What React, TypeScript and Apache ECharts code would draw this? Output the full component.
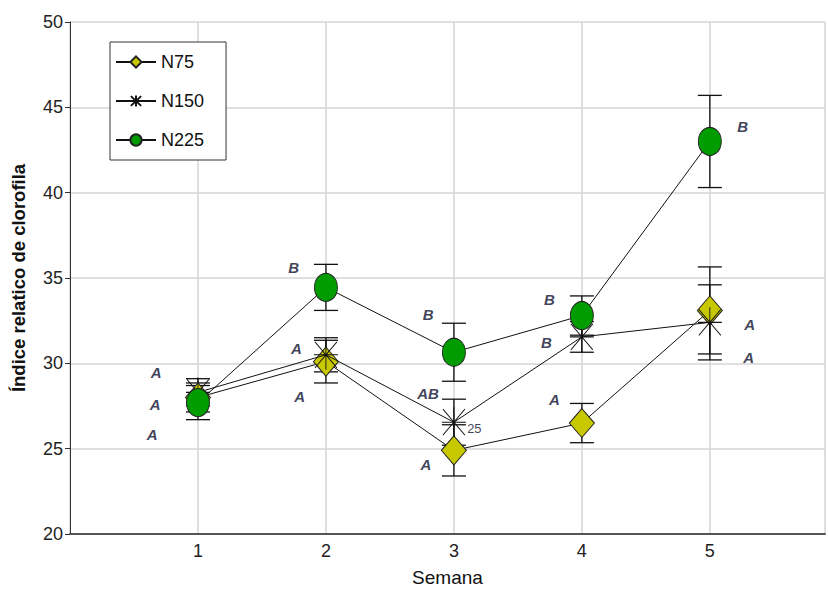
import React, { useEffect, useRef } from "react";
import * as echarts from "echarts";

const weeks = [1, 2, 3, 4, 5];
const seriesNames = ["N75", "N150", "N225"];
const n75Mean = [28.0, 30.1, 24.9, 26.5, 33.1];
const n75Err = [0.85, 1.25, 1.5, 1.15, 2.55];
const n150Mean = [28.3, 30.5, 26.55, 31.55, 32.4];
const n150Err = [0.8, 1.0, 1.35, 0.9, 2.2];
const n225Mean = [27.7, 34.45, 30.65, 32.8, 43.0];
const n225Err = [1.0, 1.35, 1.7, 1.15, 2.7];

// significance letters: [x, y, text]
const letters: [number, number, string][] = [
  [0.673, 29.44, "A"], [0.665, 27.57, "A"], [0.642, 25.83, "A"],
  [1.747, 35.61, "B"], [1.77, 30.89, "A"], [1.794, 28.04, "A"],
  [2.798, 32.87, "B"], [2.798, 28.21, "AB"], [2.782, 24.08, "A"],
  [3.747, 33.75, "B"], [3.724, 31.24, "B"], [3.786, 27.86, "A"],
  [5.257, 43.88, "B"], [5.311, 32.29, "A"], [5.303, 30.37, "A"],
];
const notes: [number, number, string][] = [[3.16, 26.2, "25"]];

const ASTERISK = "path://M12 0 L12 30 M1 2 L23 28 M23 2 L1 28 M0 15 L24 15";

export default function App() {
  const ref = useRef<HTMLDivElement>(null);
  useEffect(() => {
    if (!ref.current) return;
    const chart = echarts.init(ref.current, null, { renderer: "svg" });
    const font = "'Liberation Sans', Arial, sans-serif";
    const errSeries = (means: number[], errs: number[]) => ({
      type: "custom",
      z: 1,
      silent: true,
      data: weeks.map((w, i) => [w, means[i] - errs[i], means[i] + errs[i]]),
      encode: { x: 0, y: [1, 2] },
      renderItem: (params: any, api: any) => {
        const lo = api.coord([api.value(0), api.value(1)]);
        const hi = api.coord([api.value(0), api.value(2)]);
        const hw = 12;
        const st = { stroke: "#111", lineWidth: 1.3 };
        return {
          type: "group",
          children: [
            { type: "line", shape: { x1: lo[0], y1: lo[1], x2: hi[0], y2: hi[1] }, style: st },
            { type: "line", shape: { x1: lo[0] - hw, y1: lo[1], x2: lo[0] + hw, y2: lo[1] }, style: st },
            { type: "line", shape: { x1: hi[0] - hw, y1: hi[1], x2: hi[0] + hw, y2: hi[1] }, style: st },
          ],
        };
      },
    });
    const lineSeries = (name: string, means: number[], symbol: string, size: any, color: string, z: number) => ({
      name,
      type: "line",
      z,
      data: weeks.map((w, i) => [w, means[i]]),
      symbol,
      symbolSize: size,
      showAllSymbol: true,
      lineStyle: { color: "#111", width: 1 },
      itemStyle: { color, borderColor: "#222", borderWidth: 1 },
    });
    chart.setOption({
      animation: false,
      backgroundColor: "#fff",
      grid: { left: 70, top: 22, right: 0, bottom: 55 },
      legend: {
        left: 110,
        top: 42,
        orient: "vertical",
        data: seriesNames,
        backgroundColor: "#fff",
        borderColor: "#333",
        borderWidth: 1,
        padding: [11, 22, 11, 5],
        itemWidth: 40,
        itemHeight: 14,
        itemGap: 21,
        textStyle: { fontSize: 18, color: "#111", fontFamily: font },
      },
      xAxis: {
        type: "value",
        min: 0,
        max: 5.9,
        interval: 1,
        name: "Semana",
        nameLocation: "middle",
        nameGap: 34,
        nameTextStyle: { fontSize: 19, color: "#111", fontFamily: font },
        axisLine: { lineStyle: { color: "#555", width: 2 } },
        axisTick: { show: false },
        axisLabel: {
          margin: 8,
          fontSize: 18,
          color: "#222",
          fontFamily: font,
          formatter: (v: number) => (v >= 1 && v <= 5 ? String(v) : ""),
        },
        splitLine: { show: true, lineStyle: { color: "#d4d4d4", width: 1.5 } },
      },
      yAxis: {
        type: "value",
        min: 20,
        max: 50,
        interval: 5,
        name: "Índice relatico de clorofila",
        nameLocation: "middle",
        nameGap: 42,
        nameTextStyle: { fontSize: 18.5, fontWeight: "bold", color: "#111", fontFamily: font },
        axisLine: { show: true, lineStyle: { color: "#333", width: 1 } },
        axisTick: { show: true, length: 5, lineStyle: { color: "#333" } },
        axisLabel: { margin: 7, fontSize: 18, color: "#222", fontFamily: font },
        splitLine: { show: true, lineStyle: { color: "#d4d4d4", width: 1.5 } },
      },
      series: [
        errSeries(n75Mean, n75Err),
        errSeries(n150Mean, n150Err),
        errSeries(n225Mean, n225Err),
        lineSeries("N75", n75Mean, "diamond", [25, 29], "#c8c800", 3),
        { ...lineSeries("N150", n150Mean, ASTERISK, [24, 30], "rgba(0,0,0,0)", 4), itemStyle: { color: "rgba(0,0,0,0)", borderColor: "#111", borderWidth: 1 } },
        lineSeries("N225", n225Mean, "circle", [23, 28], "#009c00", 5),
        {
          type: "scatter",
          z: 6,
          silent: true,
          symbolSize: 0,
          data: letters.map((l) => ({ value: [l[0], l[1]], name: l[2] })),
          label: {
            show: true,
            position: "inside",
            formatter: (p: any) => p.name,
            fontSize: 15,
            fontStyle: "italic",
            fontWeight: "bold",
            color: "#0e1030",
            fontFamily: font,
          },
        },
        {
          type: "scatter",
          z: 6,
          silent: true,
          symbolSize: 0,
          data: notes.map((l) => ({ value: [l[0], l[1]], name: l[2] })),
          label: {
            show: true,
            position: "inside",
            formatter: (p: any) => p.name,
            fontSize: 13,
            color: "#0e1030",
            fontFamily: font,
          },
        },
      ],
    });
    return () => chart.dispose();
  }, []);
  return <div ref={ref} style={{ position: "fixed", left: 0, top: 0, width: 828, height: 592 }} />;
}
